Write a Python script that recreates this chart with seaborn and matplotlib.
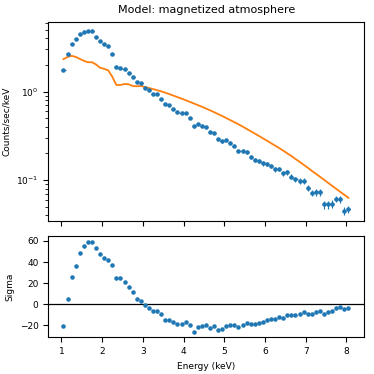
import numpy as np
import pandas as pd
import matplotlib
matplotlib.use('Agg')
import matplotlib.pyplot as plt
import seaborn as sns

energy = [1.05, 1.15, 1.25, 1.35, 1.45, 1.55, 1.65, 1.75, 1.85, 1.95,
          2.05, 2.15, 2.25, 2.35, 2.45, 2.55, 2.65, 2.75, 2.85, 2.95,
          3.05, 3.15, 3.25, 3.35, 3.45, 3.55, 3.65, 3.75, 3.85, 3.95,
          4.05, 4.15, 4.25, 4.35, 4.45, 4.55, 4.65, 4.75, 4.85, 4.95,
          5.05, 5.15, 5.25, 5.35, 5.45, 5.55, 5.65, 5.75, 5.85, 5.95,
          6.05, 6.15, 6.25, 6.35, 6.45, 6.55, 6.65, 6.75, 6.85, 6.95,
          7.05, 7.15, 7.25, 7.35, 7.45, 7.55, 7.65, 7.75, 7.85, 7.95, 8.05]

counts = [1.76, 2.63, 3.5, 3.95, 4.5, 4.67, 4.79, 4.79, 4.2, 3.72,
          3.5, 3.27, 2.67, 1.91, 1.86, 1.78, 1.62, 1.45, 1.27, 1.24,
          1.11, 1.05, 0.944, 0.93, 0.83, 0.728, 0.704, 0.64, 0.587, 0.567,
          0.567, 0.498, 0.404, 0.433, 0.411, 0.397, 0.349, 0.34, 0.288, 0.276,
          0.281, 0.262, 0.244, 0.214, 0.214, 0.207, 0.183, 0.17, 0.164, 0.155,
          0.152, 0.144, 0.132, 0.134, 0.119, 0.123, 0.109, 0.102, 0.098, 0.0975,
          0.0813, 0.0719, 0.0725, 0.0725, 0.0531, 0.0531, 0.054, 0.061, 0.0607, 0.045, 0.0467]

counts_err = [0.03, 0.035, 0.04, 0.042, 0.045, 0.045, 0.046, 0.046, 0.043, 0.04,
              0.038, 0.036, 0.032, 0.028, 0.028, 0.027, 0.026, 0.024, 0.023, 0.022,
              0.021, 0.02, 0.019, 0.019, 0.018, 0.017, 0.016, 0.016, 0.015, 0.015,
              0.014, 0.014, 0.013, 0.013, 0.013, 0.012, 0.012, 0.012, 0.011, 0.011,
              0.011, 0.011, 0.010, 0.010, 0.010, 0.010, 0.0095, 0.009, 0.009, 0.009,
              0.009, 0.0085, 0.0085, 0.008, 0.008, 0.008, 0.0075, 0.0075, 0.007, 0.007,
              0.0065, 0.006, 0.006, 0.006, 0.0055, 0.0055, 0.0055, 0.005, 0.005, 0.0045, 0.0045]

model = [2.33, 2.47, 2.54, 2.47, 2.35, 2.23, 2.15, 2.15, 2.03, 1.86,
         1.81, 1.74, 1.47, 1.19, 1.19, 1.22, 1.21, 1.16, 1.15, 1.159,
         1.130, 1.099, 1.069, 1.038, 1.007, 0.973, 0.938, 0.902, 0.867, 0.834,
         0.800, 0.767, 0.736, 0.705, 0.675, 0.644, 0.615, 0.586, 0.557, 0.530,
         0.502, 0.476, 0.451, 0.427, 0.403, 0.379, 0.357, 0.336, 0.316, 0.296,
         0.279, 0.261, 0.245, 0.230, 0.215, 0.200, 0.187, 0.173, 0.161, 0.149,
         0.138, 0.127, 0.118, 0.109, 0.101, 0.0931, 0.0861, 0.0796, 0.0736, 0.0681, 0.0630]

sigma = [-20.5, 5.1, 25.6, 36.0, 48.7, 55.0, 59.1, 59.1, 53.1, 47.4,
         44.2, 42.0, 37.6, 25.3, 25.0, 21.5, 16.1, 11.4, 5.4, 3.5,
         -0.9, -3.5, -6.0, -6.0, -9.5, -14.5, -14.5, -16.7, -19.0, -18.6,
         -16.4, -19.6, -26.2, -21.2, -20.9, -19.6, -22.1, -20.5, -24.3, -23.0,
         -20.2, -19.9, -19.9, -21.5, -19.6, -18.0, -19.0, -19.0, -17.4, -16.7,
         -14.8, -13.6, -14.2, -12.0, -13.0, -10.1, -10.4, -10.1, -9.2, -7.3,
         -8.8, -9.5, -7.3, -6.0, -9.2, -7.6, -6.3, -3.5, -2.5, -4.7, -3.5]

bin_half_width = 0.05

df = pd.DataFrame({'energy': energy, 'counts': counts, 'err': counts_err,
                   'model': model, 'sigma': sigma})

palette = sns.color_palette('tab10')
plt.rcParams['font.family'] = ['DejaVu Sans']
plt.rcParams['font.size'] = 6.5

fig = plt.figure(figsize=(3.74, 3.74), dpi=100)
ax1 = fig.add_axes([0.129, 0.409, 0.845, 0.533])
ax2 = fig.add_axes([0.129, 0.098, 0.845, 0.271], sharex=ax1)

# data with bin widths, model on top
ax1.errorbar(df['energy'], df['counts'], xerr=bin_half_width, yerr=df['err'],
             fmt='.', color=palette[0], ms=4.5, elinewidth=0.8)
sns.lineplot(data=df, x='energy', y='model', ax=ax1, color=palette[1],
             linewidth=1.3, estimator=None)
ax1.set_yscale('log')
ax1.set_ylim(0.0344, 6.18)
ax1.set_xlim(0.676, 8.44)
ax1.set_xlabel('')
ax1.set_ylabel('Counts/sec/keV', fontsize=6.5)
ax1.set_title('Model: magnetized atmosphere', fontsize=8)
ax1.tick_params(labelbottom=False, labelsize=6.5)

# residuals
ax2.errorbar(df['energy'], df['sigma'], yerr=1.0, fmt='.', color=palette[0],
             ms=4.5, elinewidth=0.8)
ax2.axhline(0, color='black', linewidth=0.9)
ax2.set_ylim(-31.3, 64.7)
ax2.set_yticks([-20, 0, 20, 40, 60])
ax2.set_xticks([1, 2, 3, 4, 5, 6, 7, 8])
ax2.set_xlabel('Energy (keV)', fontsize=6.5)
ax2.set_ylabel('Sigma', fontsize=6.5)
ax2.tick_params(labelsize=6.5)

fig.savefig('out.png', dpi=100)
